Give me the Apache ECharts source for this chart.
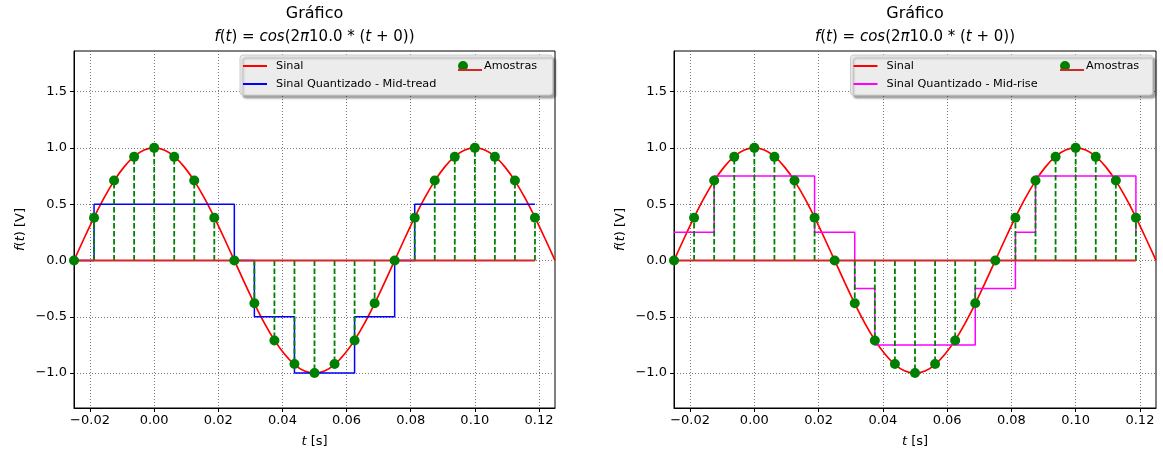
<!DOCTYPE html>
<html>
<head>
<meta charset="utf-8">
<title>Gráfico</title>
<script src="https://cdn.jsdelivr.net/npm/echarts@6.0.0/dist/echarts.min.js"></script>
<style>
  html, body { margin: 0; padding: 0; background: #fff; }
  #chart { width: 1163px; height: 454px; }
</style>
</head>
<body>
<div id="chart"></div>
<script>
// continuous signal
const signalT = [-0.025, -0.021875, -0.01875, -0.015625, -0.0125, -0.009375, -0.00625, -0.003125,
  0, 0.003125, 0.00625, 0.009375, 0.0125, 0.015625, 0.01875, 0.021875,
  0.025, 0.028125, 0.03125, 0.034375, 0.0375, 0.040625, 0.04375, 0.046875,
  0.05, 0.053125, 0.05625, 0.059375, 0.0625, 0.065625, 0.06875, 0.071875,
  0.075, 0.078125, 0.08125, 0.084375, 0.0875, 0.090625, 0.09375, 0.096875,
  0.1, 0.103125, 0.10625, 0.109375, 0.1125, 0.115625, 0.11875, 0.121875, 0.125]
const signalV = [0, 0.195, 0.383, 0.556, 0.707, 0.831, 0.924, 0.981,
  1, 0.981, 0.924, 0.831, 0.707, 0.556, 0.383, 0.195,
  0, -0.195, -0.383, -0.556, -0.707, -0.831, -0.924, -0.981,
  -1, -0.981, -0.924, -0.831, -0.707, -0.556, -0.383, -0.195,
  0, 0.195, 0.383, 0.556, 0.707, 0.831, 0.924, 0.981,
  1, 0.981, 0.924, 0.831, 0.707, 0.556, 0.383, 0.195, 0]

// samples (green dots / stems)
const sampleT = [-0.025, -0.01875, -0.0125, -0.00625, 0, 0.00625, 0.0125, 0.01875,
  0.025, 0.03125, 0.0375, 0.04375, 0.05, 0.05625, 0.0625, 0.06875,
  0.075, 0.08125, 0.0875, 0.09375, 0.1, 0.10625, 0.1125, 0.11875]
const sampleV = [0, 0.38, 0.71, 0.92, 1, 0.92, 0.71, 0.38,
  0, -0.38, -0.71, -0.92, -1, -0.92, -0.71, -0.38,
  0, 0.38, 0.71, 0.92, 1, 0.92, 0.71, 0.38]

// quantized levels at each sample
const midTread = [0, 0.5, 0.5, 0.5, 0.5, 0.5, 0.5, 0.5,
  0, -0.5, -0.5, -1, -1, -1, -0.5, -0.5,
  0, 0.5, 0.5, 0.5, 0.5, 0.5, 0.5, 0.5]
const midRise = [0.25, 0.25, 0.75, 0.75, 0.75, 0.75, 0.75, 0.25,
  0.25, -0.25, -0.75, -0.75, -0.75, -0.75, -0.75, -0.25,
  -0.25, 0.25, 0.75, 0.75, 0.75, 0.75, 0.75, 0.25]

const xTicks = [-0.02, 0, 0.02, 0.04, 0.06, 0.08, 0.1, 0.12]
const yTicks = [-1, -0.5, 0, 0.5, 1, 1.5]

const FONT = 'DejaVu Sans'
const grids = [
  { left: 74, top: 51, width: 481, height: 357 },
  { left: 674, top: 51, width: 482, height: 357 }
]
const panels = [
  { quant: midTread, name: 'Sinal Quantizado - Mid-tread', color: '#0000ff', boxX: 240, boxW: 312.5, dotX: 458 },
  { quant: midRise, name: 'Sinal Quantizado - Mid-rise', color: '#ff00ff', boxX: 850.5, boxW: 302, dotX: 1060 }
]

const pairs = (xs, ys) => xs.map((x, i) => [x, ys[i]])
const minus = s => s.replace('-', '\u2212')
const italic = { fontStyle: 'italic', fontFamily: FONT }

const option = {
  animation: false,
  title: [],
  grid: [],
  xAxis: [],
  yAxis: [],
  legend: [],
  series: [],
  graphic: []
}

panels.forEach((p, i) => {
  const g = grids[i]
  const cx = g.left + g.width / 2

  option.title.push({
    text: 'Gráfico',
    subtext: '{i|f}({i|t}) = {i|cos}(2{i|π}10.0 * ({i|t} + 0))',
    left: cx, top: 5, textAlign: 'center', padding: 0, itemGap: 4,
    textStyle: { fontFamily: FONT, fontSize: 16, fontWeight: 'normal', color: '#000', lineHeight: 18 },
    subtextStyle: { fontFamily: FONT, fontSize: 15, color: '#000', lineHeight: 20,
      rich: { i: { ...italic, fontSize: 15, color: '#000' } } }
  })

  option.grid.push({ ...g, show: true, borderColor: '#000', borderWidth: 1, backgroundColor: 'transparent' })

  option.xAxis.push({
    type: 'value', gridIndex: i, min: -0.025, max: 0.125,
    name: '{i|t} [s]', nameLocation: 'middle', nameGap: 27,
    nameTextStyle: { fontFamily: FONT, fontSize: 13, color: '#000', rich: { i: { ...italic, fontSize: 13 } } },
    axisLine: { show: true, onZero: false, lineStyle: { color: '#000', width: 1 } },
    axisTick: { show: true, length: 4, lineStyle: { color: '#000' }, customValues: xTicks },
    axisLabel: { customValues: xTicks, margin: 6, fontFamily: FONT, fontSize: 13, color: '#000',
      formatter: v => minus(v.toFixed(2)) },
    splitLine: { show: true, lineStyle: { color: '#777', type: [1, 2], width: 1 } }
  })

  option.yAxis.push({
    type: 'value', gridIndex: i, min: -1.31, max: 1.86,
    name: '{i|f}({i|t}) [V]', nameLocation: 'middle', nameGap: 47,
    nameTextStyle: { fontFamily: FONT, fontSize: 13, color: '#000', rich: { i: { ...italic, fontSize: 13 } } },
    axisLine: { show: true, onZero: false, lineStyle: { color: '#000', width: 1 } },
    axisTick: { show: true, length: 4, lineStyle: { color: '#000' }, customValues: yTicks },
    axisLabel: { customValues: yTicks, margin: 7, fontFamily: FONT, fontSize: 13, color: '#000',
      formatter: v => minus(v.toFixed(1)) },
    splitLine: { show: true, lineStyle: { color: '#777', type: [1, 2], width: 1 } }
  })

  option.series.push(
    {
      name: 'Sinal', type: 'line', xAxisIndex: i, yAxisIndex: i, z: 2,
      data: pairs(signalT, signalV), smooth: 0.3, symbol: 'none',
      lineStyle: { color: '#ff0000', width: 1.7 }, itemStyle: { color: '#ff0000' }
    },
    {
      name: p.name, type: 'line', xAxisIndex: i, yAxisIndex: i, z: 3,
      data: pairs(sampleT, p.quant), step: 'end', symbol: 'none',
      lineStyle: { color: p.color, width: 1.5 }, itemStyle: { color: p.color }
    },
    {
      name: 'stems', type: 'custom', xAxisIndex: i, yAxisIndex: i, z: 4,
      data: pairs(sampleT, sampleV), encode: { x: 0, y: 1 },
      renderItem: (params, api) => {
        const a = api.coord([api.value(0), 0])
        const b = api.coord([api.value(0), api.value(1)])
        return {
          type: 'line',
          shape: { x1: a[0], y1: a[1], x2: b[0], y2: b[1] },
          style: { stroke: '#008000', lineWidth: 1.8, lineDash: [5.5, 2.5] }
        }
      }
    },
    {
      name: 'baseline', type: 'line', xAxisIndex: i, yAxisIndex: i, z: 5,
      data: [[sampleT[0], 0], [sampleT[sampleT.length - 1], 0]], symbol: 'none',
      lineStyle: { color: '#d62728', width: 2 }
    },
    {
      name: 'Amostras', type: 'scatter', xAxisIndex: i, yAxisIndex: i, z: 6,
      data: pairs(sampleT, sampleV), symbolSize: 10,
      itemStyle: { color: '#008000', opacity: 1 }
    }
  )

  const legendText = { fontFamily: FONT, fontSize: 11.25, color: '#000', lineHeight: 14, padding: [0, 0, 0, 4] }
  const lx = p.boxX + 3
  option.legend.push(
    { data: ['Sinal'], left: lx, top: 59, padding: 0, z: 10, icon: 'rect', itemWidth: 24, itemHeight: 2,
      textStyle: legendText, selectedMode: false },
    { data: [p.name], left: lx, top: 77, padding: 0, z: 10, icon: 'rect', itemWidth: 24, itemHeight: 2,
      textStyle: legendText, selectedMode: false },
    { data: ['Amostras'], left: p.dotX, top: 59, padding: 0, z: 10, icon: 'circle', itemWidth: 24, itemHeight: 10,
      textStyle: legendText, selectedMode: false }
  )

  option.graphic.push(
    {
      type: 'rect', z: 8,
      shape: { x: p.boxX, y: 55, width: p.boxW, height: 40, r: 3 },
      style: { fill: '#ececec', stroke: '#cccccc', lineWidth: 1,
        shadowColor: 'rgba(0,0,0,0.35)', shadowBlur: 2, shadowOffsetX: 3, shadowOffsetY: 3 }
    },
    {
      type: 'line', z: 11,
      shape: { x1: p.dotX, y1: 70, x2: p.dotX + 24, y2: 70 },
      style: { stroke: '#d62728', lineWidth: 2 }
    }
  )
})

const chart = echarts.init(document.getElementById('chart'))
chart.setOption(option)
</script>
</body>
</html>
